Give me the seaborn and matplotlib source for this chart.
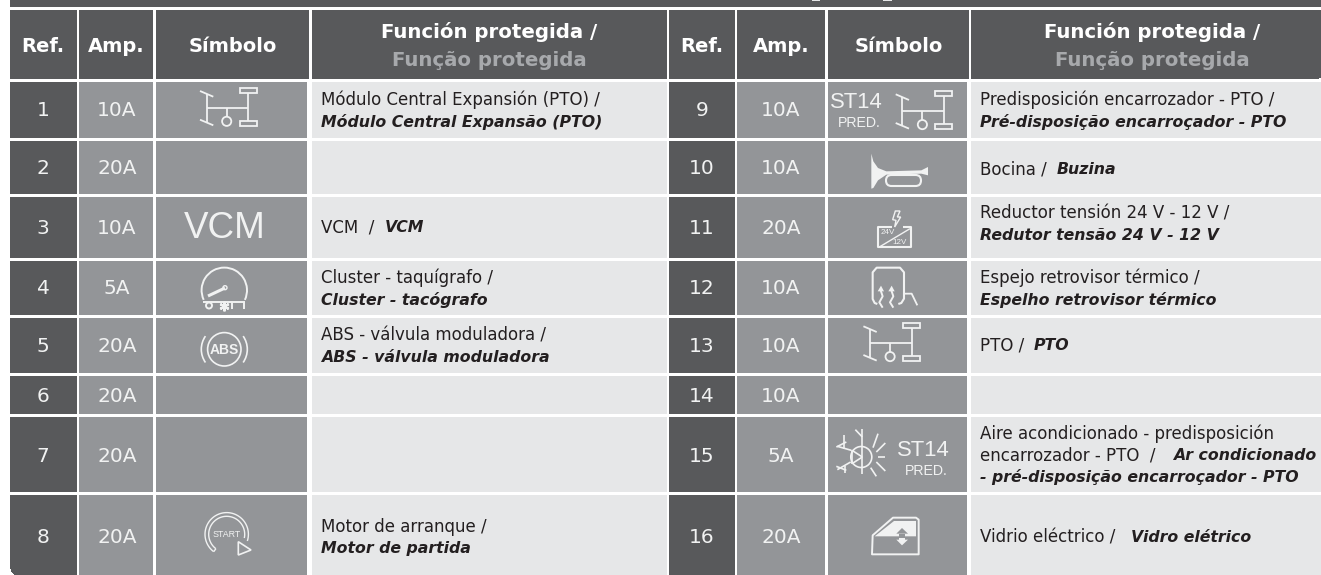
import numpy as np
import seaborn as sns
import matplotlib
matplotlib.use('Agg')
import matplotlib.pyplot as plt
from matplotlib.colors import ListedColormap
from matplotlib.patches import Arc, Circle, Polygon, FancyBboxPatch, Rectangle

refs_left = ['1', '2', '3', '4', '5', '6', '7', '8']
amps_left = ['10A', '20A', '10A', '5A', '20A', '20A', '20A', '20A']
refs_right = ['9', '10', '11', '12', '13', '14', '15', '16']
amps_right = ['10A', '10A', '20A', '10A', '10A', '10A', '5A', '20A']

head_refs = 'Ref.'
head_amps = 'Amp.'
head_symbol = 'Símbolo'
head_func_es = 'Función protegida /'
head_func_pt = 'Função protegida'

# (regular, bold italic) per text line
func_left = [
    [('Módulo Central Expansión (PTO) /', ''), ('', 'Módulo Central Expansão (PTO)')],
    [],
    [('VCM  /', 'VCM')],
    [('Cluster - taquígrafo /', ''), ('', 'Cluster - tacógrafo')],
    [('ABS - válvula moduladora /', ''), ('', 'ABS - válvula moduladora')],
    [],
    [],
    [('Motor de arranque /', ''), ('', 'Motor de partida')],
]
func_right = [
    [('Predisposición encarrozador - PTO /', ''), ('', 'Pré-disposição encarroçador - PTO')],
    [('Bocina /', 'Buzina')],
    [('Reductor tensión 24 V - 12 V /', ''), ('', 'Redutor tensão 24 V - 12 V')],
    [('Espejo retrovisor térmico /', ''), ('', 'Espelho retrovisor térmico')],
    [('PTO /', 'PTO')],
    [],
    [('Aire acondicionado - predisposición', ''), ('encarrozador - PTO  /', 'Ar condicionado'),
     ('', '- pré-disposição encarroçador - PTO')],
    [('Vidrio eléctrico /', 'Vidro elétrico')],
]

# pixel layout of the table
W, H = 1321, 575
row_top = [82, 141, 197, 261, 318, 376, 417, 495]
row_bot = [138, 194, 258, 315, 373, 414, 492, 575]
col_left = [(10, 77), (79, 153), (156, 307), (312, 667)]
col_right = [(669, 735), (737, 825), (828, 967), (971, 1321)]
head_left = [(10, 77), (79, 153), (156, 309), (312, 667)]
head_right = [(669, 735), (737, 825), (828, 969), (971, 1321)]
# where the bold part starts when it shares a line with regular text
bold_x = {'VCM': 385, 'Buzina': 1057, 'PTO': 1034, 'Ar condicionado': 1173.5, 'Vidro elétrico': 1131}

DARK = '#58595b'
MID = '#939598'
LIGHT = '#e6e7e8'
PALE = '#a7a9ac'
INK = '#231f20'
ICON = '#f1f2f2'

grid = np.zeros((H, W), dtype=int)
grid[0:7, 10:] = 3
for cols, heads in [(col_left, head_left), (col_right, head_right)]:
    for x0, x1 in heads:
        grid[10:79, x0:x1] = 3
    for y0, y1 in zip(row_top, row_bot):
        grid[y0:y1, cols[0][0]:cols[0][1]] = 3
        grid[y0:y1, cols[1][0]:cols[1][1]] = 2
        grid[y0:y1, cols[2][0]:cols[2][1]] = 2
        grid[y0:y1, cols[3][0]:cols[3][1]] = 1
grid[0:1, 812:820] = 1
grid[0:1, 883:892] = 1

# rounded corners
yy, xx = np.mgrid[0:H, 0:W]
corner = (xx < 17) & (yy >= 568) & (((xx - 17) / 7.0) ** 2 + ((yy - 568) / 7.0) ** 2 > 1)
grid[corner] = 0
corner = (xx >= 1314) & (yy >= 75) & (yy < 79) & (((xx - 1314) / 7.0) ** 2 + ((yy - 75) / 4.0) ** 2 > 1)
grid[corner] = 0

sns.set_theme(style='white')
plt.rcParams['font.family'] = ['DejaVu Sans']

fig = plt.figure(figsize=(W / 100, H / 100), dpi=100)
ax = fig.add_axes([0, 0, 1, 1])
sns.heatmap(grid, cmap=ListedColormap(['white', LIGHT, MID, DARK]), vmin=0, vmax=3, cbar=False,
            xticklabels=False, yticklabels=False, ax=ax)
ax.set_xlim(0, W)
ax.set_ylim(H, 0)
ax.axis('off')


def center(x, y, s, size=14, color='white', weight='normal', **kw):
    return ax.text(x, y, s, fontsize=size, color=color, fontweight=weight, ha='center', va='center', **kw)


# headers
for cx, sx, fx in [(43, 116, 232.5), (702, 781, 898.5)]:
    center(cx, 46, head_refs, size=14, weight='bold')
    center(sx, 46, head_amps, size=14, weight='bold')
    center(fx, 46, head_symbol, size=14, weight='bold')
for fx in [489.5, 1152]:
    center(fx, 32.5, head_func_es, size=14.2, weight='bold')
    center(fx, 61, head_func_pt, size=14.2, color=PALE, weight='bold')

# ref and amp columns
num_y = [111, 168, 228, 289, 346, 396, 456, 537.5]
for i in range(8):
    center(43, num_y[i], refs_left[i], size=14.5, color=ICON)
    center(117, num_y[i], amps_left[i], size=14.5, color=ICON)
    center(702, num_y[i], refs_right[i], size=14.5, color=ICON)
    center(781, num_y[i], amps_right[i], size=14.5, color=ICON)

# function text, y centre of every line
lines_left = [[99.5, 121.5], [], [228], [277.5, 299.5], [336, 357], [], [], [527.5, 549]]
lines_right = [[100, 121.5], [169], [213.5, 235], [277.5, 299.5], [345.5], [], [434, 455.5, 477], [537]]


def func_line(x, y, regular, bold):
    if regular:
        ax.text(x, y, regular, fontsize=12, color=INK, ha='left', va='center')
        if bold:
            x = bold_x[bold]
    if bold:
        ax.text(x, y, bold, fontsize=11.3, color=INK, fontweight='bold', fontstyle='italic',
                ha='left', va='center')


for x, funcs, ys in [(321, func_left, lines_left), (980.5, func_right, lines_right)]:
    for row, pos in zip(funcs, ys):
        for (regular, bold), y in zip(row, pos):
            func_line(x, y, regular, bold)


def pl(xs, ys, lw=1.3, color=ICON):
    ax.plot(xs, ys, color=color, lw=lw, solid_capstyle='butt', solid_joinstyle='round')


def pto(ox, oy):
    pl([ox + 10, ox + 23.3], [oy + 9, oy + 14.7])
    pl([ox + 10, ox + 23.3], [oy + 37.7, oy + 43.3])
    pl([ox + 16.7, ox + 16.7], [oy + 12, oy + 40])
    pl([ox + 16.7, ox + 58.3], [oy + 25.7, oy + 25.7])
    pl([ox + 58.3, ox + 58.3], [oy + 11, oy + 39])
    pl([ox + 36.7, ox + 36.7], [oy + 25.7, oy + 34.5])
    ax.add_patch(Circle((ox + 36.7, oy + 39.3), 4.6, fc='none', ec=ICON, lw=1.3))
    ax.add_patch(Rectangle((ox + 49.5, oy + 6), 17, 5, fc='none', ec=ICON, lw=1.3))
    ax.add_patch(Rectangle((ox + 49.5, oy + 39), 17, 5, fc='none', ec=ICON, lw=1.3))


pto(190, 82)
pto(885.7, 85.3)
pto(853.4, 317.3)

# VCM
center(225, 228, 'VCM', size=26.5, color=ICON, family='Liberation Sans')

# cluster
ox, oy = 185, 261
ax.add_patch(Arc((ox + 39.3, oy + 29.3), 45.4, 45.4, theta1=155, theta2=385, angle=0, ec=ICON, lw=1.4))
pl([ox + 23, ox + 40], [oy + 35, oy + 27], lw=2.2)
ax.add_patch(Circle((ox + 40, oy + 26.7), 2, fc=MID, ec=ICON, lw=1))
pl([ox + 18, ox + 60], [oy + 40.5, oy + 40.5], lw=1.4)
ax.add_patch(Circle((ox + 24, oy + 44.5), 3, fc='none', ec=ICON, lw=1.4))
ax.plot([ox + 38.5], [oy + 44.5], marker=(6, 2, 0), ms=7, mew=1.6, color=ICON)
pl([ox + 47, ox + 47], [oy + 41, oy + 47.5], lw=1.4)
pl([ox + 59, ox + 59], [oy + 41, oy + 47.5], lw=1.4)

# ABS
cx, cy = 185 + 39.3, 261 + 88.3
ax.add_patch(Circle((cx, cy), 16.7, fc='none', ec=ICON, lw=1.2))
ax.add_patch(Arc((cx, cy), 46, 46, theta1=145, theta2=215, ec=ICON, lw=1.2))
ax.add_patch(Arc((cx, cy), 46, 46, theta1=-35, theta2=35, ec=ICON, lw=1.2))
center(cx, cy + 0.5, 'ABS', size=10, color=ICON, weight='bold', family='Liberation Sans')

# start, y grows downwards so a growing angle turns clockwise
ox, oy = 185, 495
cx, cy = ox + 41.7, oy + 39.3
for r, t1 in [(21.7, 378), (18, 372)]:
    t = np.radians(np.linspace(127, t1, 60))
    pl(cx + r * np.cos(t), cy + r * np.sin(t), lw=1.0)
pl([cx - 13, cx - 10.8], [cy + 17.4, cy + 14.4], lw=1.0)
center(cx, cy, 'START', size=6.4, color=ICON, family='Liberation Sans')
ax.add_patch(Polygon([(ox + 53.3, oy + 46.7), (ox + 66, oy + 55), (ox + 53.3, oy + 60)], closed=True,
                     fc=MID, ec=ICON, lw=1.2))

# ST14 labels
center(828 + 28.5, 82 + 20, 'ST14', size=15.8, color=ICON, family='Liberation Sans')
center(828 + 31, 82 + 41, 'PRED.', size=10.2, color=ICON, family='Liberation Sans')
center(828 + 95, 417 + 33, 'ST14', size=15.8, color=ICON, family='Liberation Sans')
center(828 + 98, 417 + 54, 'PRED.', size=10.2, color=ICON, family='Liberation Sans')


def crop(ox, oy, pts):
    return [(ox + a / 3, oy + b / 3) for a, b in pts]


# horn
ox, oy = 828, 82
ax.add_patch(Polygon(crop(ox, oy, [(130, 215), (136, 238), (150, 258), (175, 268), (280, 265), (300, 255),
                                   (300, 280), (280, 275), (175, 278), (150, 295), (136, 318), (130, 320)]),
                     closed=True, fc=ICON, ec='none'))
ax.add_patch(FancyBboxPatch((ox + 58, oy + 93), 35, 11, boxstyle='round,pad=0,rounding_size=5.5',
                            fc='none', ec=ICON, lw=1.5))

# 24 V / 12 V
ox, oy = 860, 197
ax.add_patch(Polygon(crop(ox, oy, [(106, 42), (98, 68), (108, 70), (104, 90), (122, 60), (112, 60), (120, 42)]),
                     closed=True, fc='none', ec=ICON, lw=1))
pts = crop(ox, oy, [(95, 90), (55, 90), (55, 150), (152, 150), (152, 90), (130, 90)])
pl([p[0] for p in pts], [p[1] for p in pts], lw=1.5)
pts = crop(ox, oy, [(58, 150), (150, 95)])
pl([p[0] for p in pts], [p[1] for p in pts], lw=1)
center(ox + 28, oy + 36, '24V', size=5.8, color=ICON, family='Liberation Sans')
center(ox + 39.5, oy + 45, '12V', size=5.8, color=ICON, family='Liberation Sans')

# heated mirror
pts = crop(ox, oy, [(52, 321), (44, 318), (38, 306), (38, 226), (50, 212), (120, 212), (132, 226), (132, 305),
                    (124, 318), (115, 321)])
pl([p[0] for p in pts], [p[1] for p in pts], lw=1.5)
pts = crop(ox, oy, [(132, 290), (155, 290), (172, 325)])
pl([p[0] for p in pts], [p[1] for p in pts], lw=1.3)
for dx in [0, 32]:
    pts = crop(ox, oy, [(68 + dx, 332), (58 + dx, 316), (68 + dx, 298), (62 + dx, 280)])
    pl([p[0] for p in pts], [p[1] for p in pts], lw=1.4)
    ax.add_patch(Polygon(crop(ox, oy, [(53 + dx, 283), (63 + dx, 266), (72 + dx, 283)]), closed=True,
                         fc=ICON, ec='none'))

# snowflake and sun
ox, oy = 828, 417
segs = [[(103, 35), (103, 172)], [(82, 38), (103, 60)], [(70, 100), (28, 88)], [(68, 135), (28, 158)],
        [(48, 55), (48, 95)], [(25, 90), (55, 75)], [(50, 168), (50, 146)], [(25, 148), (55, 160)],
        [(135, 92), (150, 50)], [(145, 105), (172, 78)], [(150, 120), (172, 120)], [(145, 135), (172, 162)],
        [(128, 152), (145, 178)], [(72, 100), (103, 120)], [(72, 140), (103, 120)], [(72, 100), (72, 140)]]
for s in segs:
    pts = crop(ox, oy, s)
    pl([p[0] for p in pts], [p[1] for p in pts], lw=1.2)
ax.add_patch(Circle((ox + 33.3, oy + 40), 10.5, fc='none', ec=ICON, lw=1.2))

# power window
ax.add_patch(Polygon(crop(ox, oy, [(132, 412), (272, 412), (272, 308), (264, 302), (195, 302), (134, 355)]),
                     closed=True, fc='none', ec=ICON, lw=1.4, joinstyle='round'))
ax.add_patch(Polygon(crop(ox, oy, [(140, 358), (198, 312), (264, 312), (264, 358)]), closed=True, fc=ICON, ec='none'))
ax.add_patch(Polygon(crop(ox, oy, [(205, 350), (222, 333), (240, 350)]), closed=True, fc=MID, ec='none'))
ax.add_patch(Rectangle((ox + 71, oy + 116.7), 6, 3, fc=MID, ec='none'))
ax.add_patch(Polygon(crop(ox, oy, [(205, 368), (222, 385), (240, 368)]), closed=True, fc=ICON, ec='none'))
ax.add_patch(Rectangle((ox + 71, oy + 120.5), 6, 3, fc=ICON, ec='none'))

plt.savefig('out.png', dpi=100)
